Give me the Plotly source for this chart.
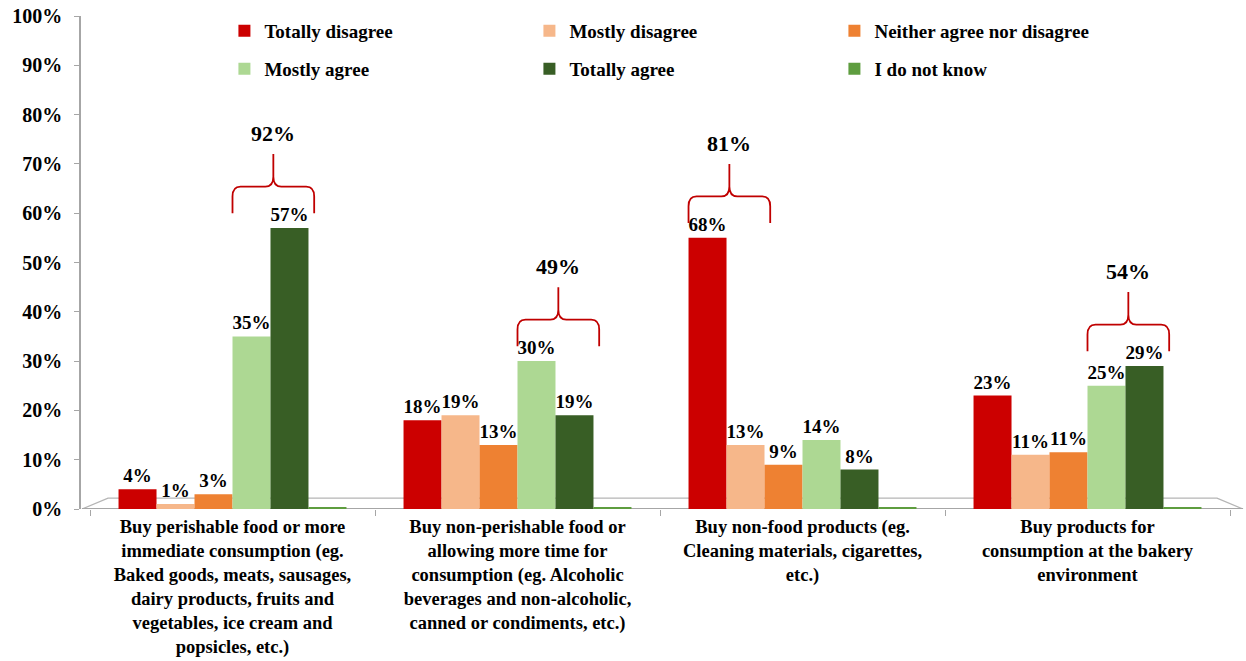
import plotly.graph_objects as go

categories = [
    "Buy perishable food or more<br>immediate consumption (eg.<br>Baked goods, meats, sausages,<br>dairy products, fruits and<br>vegetables, ice cream and<br>popsicles, etc.)",
    "Buy non-perishable food or<br>allowing more time for<br>consumption (eg. Alcoholic<br>beverages and non-alcoholic,<br>canned or condiments, etc.)",
    "Buy non-food products (eg.<br>Cleaning materials, cigarettes,<br>etc.)",
    "Buy products for<br>consumption at the bakery<br>environment",
]

series_names = ["Totally disagree", "Mostly disagree", "Neither agree nor disagree",
                "Mostly agree", "Totally agree", "I do not know"]

# bar heights as drawn in the picture (%)
totally_disagree = [4, 18, 55, 23]
mostly_disagree = [1, 19, 13, 11]
neither = [3, 13, 9, 11.5]
mostly_agree = [35, 30, 14, 25]
totally_agree = [57, 19, 8, 29]
do_not_know = [0.4, 0.4, 0.4, 0.4]

# data labels as printed
totally_disagree_labels = ["4%", "18%", "68%", "23%"]
mostly_disagree_labels = ["1%", "19%", "13%", "11%"]
neither_labels = ["3%", "13%", "9%", "11%"]
mostly_agree_labels = ["35%", "30%", "14%", "25%"]
totally_agree_labels = ["57%", "19%", "8%", "29%"]
do_not_know_labels = [None, None, None, None]

# bracket totals and which pair of series they group
totals_text = ["92%", "49%", "81%", "54%"]
bracket_pairs = [(3, 4), (3, 4), (0, 1), (3, 4)]

y_tick_vals = list(range(0, 101, 10))
y_tick_text = [f"{v}%" for v in y_tick_vals]

heights = [totally_disagree, mostly_disagree, neither, mostly_agree, totally_agree, do_not_know]
labels = [totally_disagree_labels, mostly_disagree_labels, neither_labels,
          mostly_agree_labels, totally_agree_labels, do_not_know_labels]
colors = ["#CC0000", "#F6B78A", "#EE8132", "#ADD893", "#385E25", "#5E9D3F"]

FONT = "Liberation Serif, Times New Roman, DejaVu Serif, serif"
W = 0.1333

fig = go.Figure()
for i, name in enumerate(series_names):
    fig.add_trace(go.Bar(
        x=categories, y=heights[i], name=name,
        marker=dict(color=colors[i], line=dict(width=0)),
        width=W, offset=-3 * W + i * W,
        text=labels[i], textposition="outside", textangle=0,
        constraintext="none", cliponaxis=False,
        textfont=dict(family=FONT, size=19, color="black", weight="bold"),
        legend="legend" if i < 3 else "legend2",
        hoverinfo="skip",
    ))

shapes = []
annotations = []
# floor
fl, bl, br, fr = 2 / 1160, 28 / 1160, 1137 / 1160, 1163 / 1160
shapes.append(dict(type="path", xref="paper", yref="y",
                   path=f"M {fl},0 L {bl},2.2 L {br},2.2 L {fr},0 Z",
                   line=dict(color="#B5B5B5", width=1.3), layer="below"))
shapes.append(dict(type="line", xref="paper", yref="y", x0=fl, x1=fr, y0=0, y1=0,
                   line=dict(color="#A6A6A6", width=1.8), layer="below"))

# brackets
dx, dy = 0.028, 2.0
for c, (a, b) in enumerate(bracket_pairs):
    xl = c - 3 * W + a * W
    xr = c - 3 * W + (b + 1) * W + 0.02
    xc = (xl + xr) / 2
    base = max(heights[a][c], heights[b][c]) + 3
    h = base + 5.4
    top = base + 12.0
    path = (f"M {xl},{base} L {xl},{h - dy} Q {xl},{h} {xl + dx},{h} "
            f"L {xc - dx},{h} Q {xc},{h} {xc},{h + dy} L {xc},{top} "
            f"M {xc},{h + dy} Q {xc},{h} {xc + dx},{h} "
            f"L {xr - dx},{h} Q {xr},{h} {xr},{h - dy} L {xr},{base}")
    shapes.append(dict(type="path", xref="x", yref="y", path=path,
                       line=dict(color="#C00000", width=1.8)))
    annotations.append(dict(x=xc, y=base + 16.2, xref="x", yref="y", text=totals_text[c],
                            showarrow=False, yanchor="middle",
                            font=dict(family=FONT, size=22, color="black", weight="bold")))

legend_common = dict(orientation="h", x=0.1245, xanchor="left", yanchor="middle",
                     entrywidth=260, entrywidthmode="pixels",
                     font=dict(family=FONT, size=19, color="black", weight="bold"),
                     bgcolor="rgba(0,0,0,0)", traceorder="normal")

fig.update_layout(
    width=1246, height=661,
    margin=dict(l=80, r=6, t=16, b=152, autoexpand=False),
    paper_bgcolor="white", plot_bgcolor="white",
    font=dict(family=FONT, size=19, color="black", weight="bold"),
    barmode="overlay",
    showlegend=True,
    legend=dict(y=0.9696, **legend_common),
    legend2=dict(y=0.8925, **legend_common),
    shapes=shapes, annotations=annotations,
    xaxis=dict(domain=[10 / 1160, 1150 / 1160], type="category", tickson="boundaries",
               ticks="outside", ticklen=6, tickcolor="#A6A6A6", showline=False,
               showgrid=False, zeroline=False, range=[-0.5, 3.5], automargin=False,
               ticklabelstandoff=4,
               tickfont=dict(family=FONT, size=18.5, color="black", weight="bold")),
    yaxis=dict(range=[0, 100], tickvals=y_tick_vals, ticktext=y_tick_text,
               anchor="free", position=0, showline=True, linecolor="#A6A6A6", linewidth=1.5,
               ticks="outside", ticklen=5, tickcolor="#A6A6A6", showgrid=False, zeroline=False,
               ticklabelstandoff=8, automargin=False,
               tickfont=dict(family=FONT, size=20, color="black", weight="bold")),
)

fig.write_html("out.html", config={"displayModeBar": False},
               post_script="document.body.style.margin='0';")
